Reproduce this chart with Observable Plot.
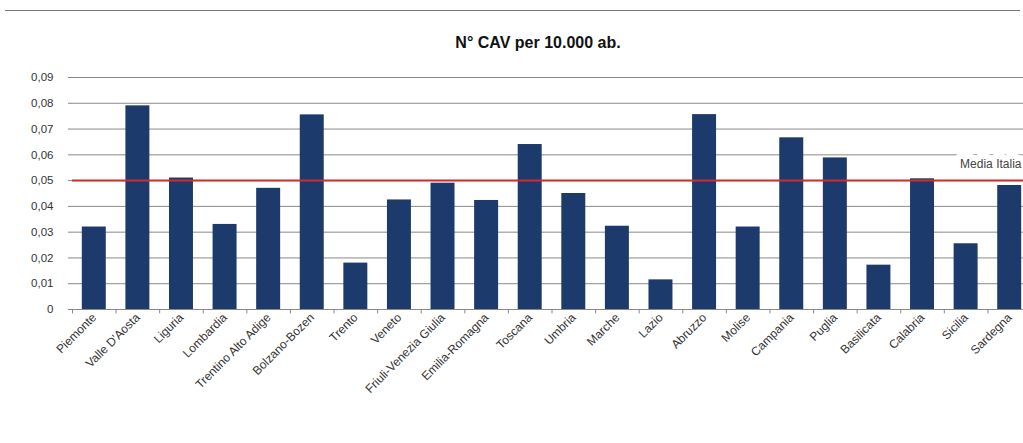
<!DOCTYPE html>
<html>
<head>
<meta charset="utf-8">
<script src="https://cdn.jsdelivr.net/npm/d3@7"></script>
<script src="https://cdn.jsdelivr.net/npm/@observablehq/plot@0.6"></script>
<style>
  html, body { margin: 0; padding: 0; background: #fff; overflow: hidden; width: 1023px; height: 443px; }
  body { font-family: "Liberation Sans", Arial, sans-serif; position: relative; }
  #topline { position: absolute; left: 5px; top: 10px; width: 1015px; border-top: 1.5px solid #777; }
  #title { position: absolute; left: 0; top: 34px; width: 1076px; text-align: center; font-family: "Liberation Sans", Arial, sans-serif; font-weight: bold; font-size: 16px; color: #111; }
  #chart { position: absolute; left: 0; top: 60px; width: 1040px; }
  #chart svg { max-width: none !important; }
</style>
</head>
<body>
<div id="topline"></div>
<div id="title">N° CAV per 10.000 ab.</div>
<div id="chart"></div>
<script>
const regions = ["Piemonte","Valle D'Aosta","Liguria","Lombardia","Trentino Alto Adige","Bolzano-Bozen","Trento","Veneto","Friuli-Venezia Giulia","Emilia-Romagna","Toscana","Umbria","Marche","Lazio","Abruzzo","Molise","Campania","Puglia","Basilicata","Calabria","Sicilia","Sardegna"];
const values = [0.032,0.079,0.051,0.033,0.047,0.0755,0.018,0.0425,0.049,0.0423,0.064,0.045,0.0323,0.0115,0.0756,0.032,0.0666,0.0588,0.0172,0.0507,0.0255,0.0481];
const yTicks = [0,0.01,0.02,0.03,0.04,0.05,0.06,0.07,0.08,0.09];
const mediaItalia = 0.05;
const mediaLabel = "Media Italia";

const data = regions.map((r, i) => ({region: r, value: values[i]}));

const marginLeft = 72, width = 1031;
const band = (width - marginLeft) / regions.length;
const fmt = d => d === 0 ? "0" : d.toFixed(2).replace(".", ",");

const chart = Plot.plot({
  width: width,
  height: 383,
  marginLeft: marginLeft,
  marginRight: 0,
  marginTop: 17,
  marginBottom: 134,
  style: {fontFamily: "'Liberation Sans', Arial, sans-serif", fontSize: "11px", color: "#333", background: "transparent", maxWidth: "none"},
  x: {domain: regions, paddingInner: 0.45, paddingOuter: 0.225, round: false, label: null},
  y: {domain: [0, 0.09], label: null},
  marks: [
    Plot.ruleY(yTicks, {stroke: "#8a8a8a", strokeWidth: 1}),
    Plot.barY(data, {x: "region", y: "value", fill: "#1d3a6c"}),
    Plot.ruleY([mediaItalia], {stroke: "#d42a2a", strokeWidth: 2}),
    Plot.text([mediaLabel], {x: () => "Sicilia", y: mediaItalia, dx: -6, dy: -16, textAnchor: "start", fill: "#444", stroke: "#fff", strokeWidth: 12, fontSize: 12, letterSpacing: 0.5}),
    Plot.ruleX(regions, {x: d => d, y1: 0, y2: -0.0017, dx: -band / 2, stroke: "#888"}),
    Plot.ruleY([0], {stroke: "#888"}),
    Plot.ruleX([0], {frameAnchor: "left", stroke: "#888"}),
    Plot.axisY({ticks: yTicks, tickFormat: fmt, tickSize: 4, tickPadding: 15, stroke: "#888", fill: "#333", fontSize: 11.5, letterSpacing: 0.7}),
    Plot.axisX({tickRotate: -45, tickSize: 0, tickPadding: 6, fill: "#333", fontSize: 12, letterSpacing: 0.5})
  ]
});
document.getElementById("chart").appendChild(chart);
</script>
</body>
</html>
